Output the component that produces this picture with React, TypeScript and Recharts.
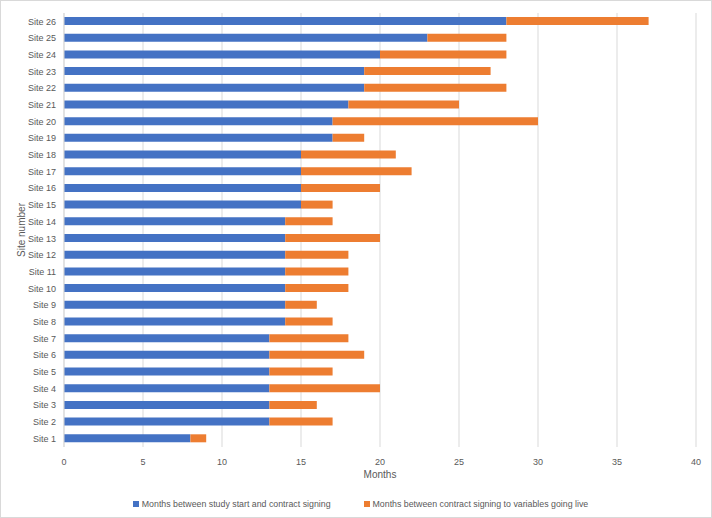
import { BarChart, Bar, XAxis, YAxis, CartesianGrid, Legend } from 'recharts';

const sites = [
  'Site 1', 'Site 2', 'Site 3', 'Site 4', 'Site 5', 'Site 6', 'Site 7', 'Site 8', 'Site 9',
  'Site 10', 'Site 11', 'Site 12', 'Site 13', 'Site 14', 'Site 15', 'Site 16', 'Site 17',
  'Site 18', 'Site 19', 'Site 20', 'Site 21', 'Site 22', 'Site 23', 'Site 24', 'Site 25', 'Site 26',
];
// months between study start and contract signing
const toContract = [8, 13, 13, 13, 13, 13, 13, 14, 14, 14, 14, 14, 14, 14, 15, 15, 15, 15, 17, 17, 18, 19, 19, 20, 23, 28];
// months between contract signing and variables going live
const toLive = [1, 4, 3, 7, 4, 6, 5, 3, 2, 4, 4, 4, 6, 3, 2, 5, 7, 6, 2, 13, 7, 9, 8, 8, 5, 9];
const xTicks = [0, 5, 10, 15, 20, 25, 30, 35, 40];

const BLUE = '#4472C4';
const ORANGE = '#ED7D31';
const TEXT = '#595959';
const GRID = '#d9d9d9';
const FONT = "'Liberation Sans', Arial, sans-serif";

const series = [
  { key: 'start', name: 'Months between study start and contract signing', color: BLUE },
  { key: 'live', name: 'Months between contract signing to variables going live', color: ORANGE },
];

const data = sites.map((name, i) => ({ name, start: toContract[i], live: toLive[i] }));

function LegendBox() {
  return (
    <div
      style={{
        height: 35,
        boxSizing: 'border-box',
        paddingTop: 9,
        paddingLeft: 24,
        display: 'flex',
        justifyContent: 'center',
        gap: 33,
        fontFamily: FONT,
        fontSize: 8.8,
        lineHeight: '12px',
        color: TEXT,
      }}
    >
      {series.map((s) => (
        <div key={s.key} style={{ display: 'flex', alignItems: 'center' }}>
          <span style={{ width: 6, height: 6, background: s.color, marginRight: 3, display: 'inline-block' }} />
          <span>{s.name}</span>
        </div>
      ))}
    </div>
  );
}

export default function App() {
  return (
    <div
      style={{
        position: 'absolute',
        left: 0,
        top: 0,
        width: 712,
        height: 518,
        background: '#fff',
        boxSizing: 'border-box',
        border: '1px solid #d9d9d9',
        fontFamily: FONT,
      }}
    >
      <BarChart
        width={710}
        height={516}
        data={data}
        layout="vertical"
        barSize={8}
        margin={{ top: 12, right: 15, bottom: 0, left: 0 }}
      >
        <CartesianGrid horizontal={false} stroke={GRID} />
        <XAxis
          type="number"
          domain={[0, 40]}
          ticks={xTicks}
          axisLine={false}
          tickLine={false}
          tickMargin={6}
          tick={{ fill: TEXT, fontSize: 9, fontFamily: FONT }}
          height={35}
          label={{ value: 'Months', position: 'insideBottom', offset: 4, fill: TEXT, fontSize: 10, fontFamily: FONT }}
        />
        <YAxis
          type="category"
          dataKey="name"
          reversed
          width={63}
          axisLine={{ stroke: GRID }}
          tickLine={false}
          interval={0}
          tick={{ fill: TEXT, fontSize: 9, fontFamily: FONT }}
          label={({ viewBox }: any) => {
            const cy = viewBox.y + viewBox.height / 2;
            return (
              <text
                x={20}
                y={cy}
                transform={`rotate(-90 20 ${cy})`}
                textAnchor="middle"
                dominantBaseline="central"
                fill={TEXT}
                fontSize={10}
                fontFamily={FONT}
              >
                Site number
              </text>
            );
          }}
        />
        <Legend verticalAlign="bottom" content={<LegendBox />} />
        {series.map((s) => (
          <Bar
            key={s.key}
            dataKey={s.key}
            name={s.name}
            stackId="a"
            fill={s.color}
            isAnimationActive={false}
          />
        ))}
      </BarChart>
    </div>
  );
}
